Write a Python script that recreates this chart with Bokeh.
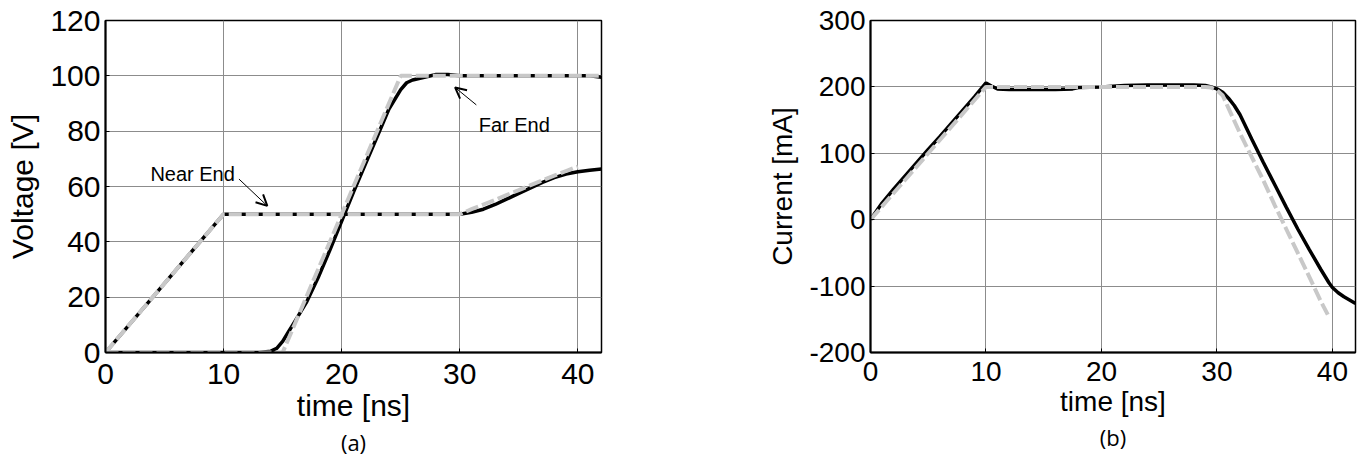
from bokeh.plotting import figure
from bokeh.layouts import row
from bokeh.models import Label, Arrow, OpenHead, FixedTicker, Range1d, Title
from bokeh.embed import file_html
from bokeh.resources import INLINE

# ---------------- data: panel (a) voltage ----------------
near_t = [0, 10, 30, 31, 32, 33, 34, 35, 36, 37, 38, 39, 40, 41, 42]
near_v = [0, 50, 50, 50.7, 51.8, 53.5, 55.5, 57.5, 59.5, 61.5, 63.2, 64.5, 65.3, 65.9, 66.3]
near_ref_t = [0, 10, 30, 31, 32, 33, 34, 35, 36, 37, 38, 39, 40]
near_ref_v = [0, 50, 50, 51.8, 53.5, 55.2, 57.0, 58.7, 60.5, 62.2, 63.9, 65.6, 67.2]

far_t = [0, 10, 13, 14, 14.5, 15, 15.5, 16, 17, 18, 19, 20, 21, 22, 23, 24, 25, 25.5, 26, 27, 28, 29, 30, 35, 40, 41, 42]
far_v = [0, 0, 0, 0.5, 1.5, 4, 7.5, 11, 18, 27, 37, 47.5, 58, 68, 78, 88, 95, 97.5, 98.5, 99.5, 100.5, 100.5, 100, 100, 100, 100, 99.5]
far_ref_t = [0, 15, 25, 42]
far_ref_v = [0, 0, 100, 100]

v_ticks = [0, 20, 40, 60, 80, 100, 120]
t_ticks = [0, 10, 20, 30, 40]

# ---------------- data: panel (b) current ----------------
cur_t = [0, 1, 2, 3, 4, 5, 6, 7, 8, 9, 10, 10.5, 11, 12, 14, 16, 17.5, 18, 20, 22, 24, 26, 28, 29, 29.5,
         30, 30.5, 31, 31.5, 32, 33, 34, 35, 36, 37, 38, 39, 39.7, 40, 40.5, 41, 42]
cur_i = [0, 25, 46, 66, 86, 106, 125, 145, 165, 185, 206, 201, 197, 196, 196, 196, 197, 199, 200, 202, 203, 203, 203, 202, 200,
         197, 192, 183, 172, 158, 122, 87, 53, 19, -14, -45, -75, -95, -102, -110, -116, -126]
cur_ref_t = [0, 10, 29, 29.5, 30, 30.5, 31, 32, 33, 34, 35, 36, 37, 38, 39, 39.6]
cur_ref_i = [0, 200, 200, 199, 195, 187, 168, 130, 95, 60, 22, -14, -50, -86, -123, -143]

i_ticks = [-200, -100, 0, 100, 200, 300]
i_tick_labels = {-200: "-200", -100: "-100", 0: "0", 100: "100", 200: "200", 300: "300"}

FONT = "Liberation Sans"
GRAY = "#c8c8c8"


def style(p, fs, xt, yt, xstand):
    p.xaxis.ticker = FixedTicker(ticks=xt)
    p.yaxis.ticker = FixedTicker(ticks=yt)
    for ax in (p.xaxis, p.yaxis):
        ax.major_label_text_font = FONT
        ax.major_label_text_font_size = fs
        ax.major_label_text_color = "black"
        ax.axis_label_text_font = FONT
        ax.axis_label_text_font_size = fs
        ax.axis_label_text_font_style = "normal"
        ax.axis_label_text_color = "black"
        ax.major_tick_in = 4
        ax.major_tick_out = 0
        ax.minor_tick_line_color = None
        ax.axis_line_color = "black"
        ax.axis_line_width = 2
        ax.major_tick_line_color = "black"
    p.xaxis.major_label_standoff = xstand
    p.yaxis.major_label_standoff = 5
    p.xaxis.axis_label_standoff = 2
    p.yaxis.axis_label_standoff = 8
    p.grid.grid_line_color = "#8c8c8c"
    p.grid.grid_line_width = 1
    p.outline_line_color = "black"
    p.outline_line_width = 1.5
    p.background_fill_color = "white"
    p.border_fill_color = "white"


def caption(p, txt):
    t = Title(text=txt, align="center", text_font="Open Sans", text_font_size="22px",
              text_font_style="normal", text_color="black", standoff=0)
    p.add_layout(t, "below")


# ---------------- panel (a) ----------------
p1 = figure(width=700, height=457, x_range=Range1d(0, 42), y_range=Range1d(0, 120),
            output_backend="svg", toolbar_location=None,
            min_border_left=105, min_border_right=99, min_border_top=19, min_border_bottom=105,
            x_axis_label="time [ns]", y_axis_label="Voltage [V]")
style(p1, "30px", t_ticks, v_ticks, 11)

p1.line(near_t, near_v, line_color="black", line_width=3.5)
p1.line(far_t, far_v, line_color="black", line_width=3.5)
p1.line(near_ref_t, near_ref_v, line_color=GRAY, line_width=4, line_dash="13 4")
p1.line(far_ref_t, far_ref_v, line_color=GRAY, line_width=4, line_dash="13 4")

p1.add_layout(Label(x=3.8, y=64.6, text="Near End", text_font=FONT, text_font_size="20px",
                    text_color="black", text_baseline="alphabetic"))
p1.add_layout(Arrow(end=OpenHead(size=11, line_width=2, line_color="black"),
                    x_start=11.3, y_start=62.7, x_end=13.7, y_end=53.0,
                    line_width=1, line_color="black"))
p1.add_layout(Label(x=31.6, y=82.3, text="Far End", text_font=FONT, text_font_size="20px",
                    text_color="black", text_baseline="alphabetic"))
p1.add_layout(Arrow(end=OpenHead(size=11, line_width=2, line_color="black"),
                    x_start=31.4, y_start=89.5, x_end=29.6, y_end=95.8,
                    line_width=1, line_color="black"))
caption(p1, "(a)")

# ---------------- panel (b) ----------------
p2 = figure(width=657, height=457, x_range=Range1d(0, 42), y_range=Range1d(-200, 300),
            output_backend="svg", toolbar_location=None,
            min_border_left=170, min_border_right=2, min_border_top=20, min_border_bottom=100,
            x_axis_label="time [ns]", y_axis_label="Current [mA]")
style(p2, "28px", t_ticks, i_ticks, 9)
p2.yaxis.major_label_overrides = i_tick_labels

p2.line(cur_t, cur_i, line_color="black", line_width=3.5)
p2.line(cur_ref_t, cur_ref_i, line_color=GRAY, line_width=4, line_dash="13 4")
caption(p2, "(b)")

layout = row(p1, p2)
open("out.html", "w").write(file_html(layout, INLINE))
